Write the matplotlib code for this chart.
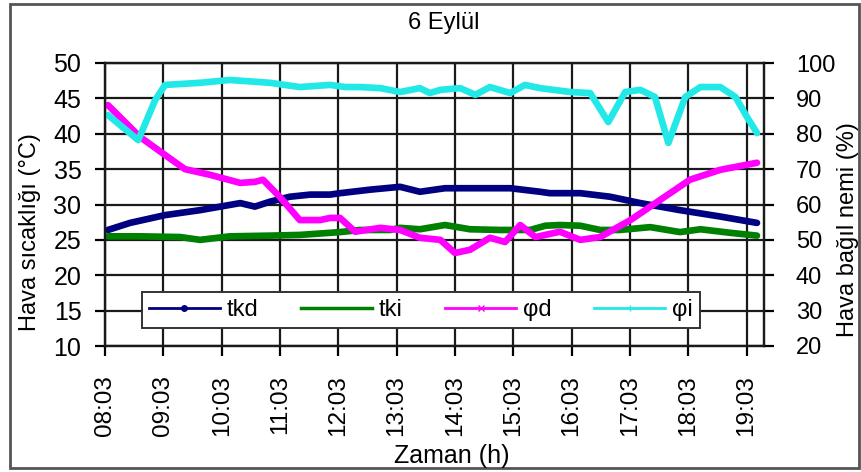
import matplotlib
matplotlib.use("Agg")
import matplotlib.pyplot as plt
from matplotlib.lines import Line2D
from matplotlib.patches import Rectangle

plt.rcParams['font.family'] = ['Liberation Sans', 'DejaVu Sans']

# --- data (time in decimal hours) ---
t_tkd = [8.10, 8.48, 9.08, 9.68, 10.37, 10.62, 10.88, 11.22, 11.57, 11.91, 12.08, 12.60,
         13.11, 13.45, 13.88, 14.48, 15.00, 15.51, 15.68, 16.20, 16.71, 17.23, 17.91, 18.60, 19.23]
tkd = [26.4, 27.4, 28.5, 29.2, 30.2, 29.7, 30.4, 31.1, 31.4, 31.4, 31.6, 32.1,
       32.5, 31.8, 32.3, 32.3, 32.3, 31.8, 31.6, 31.6, 31.1, 30.2, 29.2, 28.3, 27.4]

t_tki = [8.10, 8.65, 9.34, 9.68, 10.19, 10.88, 11.39, 11.74, 12.08, 12.42, 12.94, 13.11, 13.45,
         13.88, 14.31, 14.83, 15.34, 15.60, 15.85, 16.20, 16.54, 16.88, 17.40, 17.91, 18.26, 18.77, 19.23]
tki = [25.5, 25.5, 25.4, 25.0, 25.5, 25.6, 25.7, 25.9, 26.1, 26.4, 26.4, 26.7, 26.5,
       27.1, 26.5, 26.4, 26.4, 27.0, 27.1, 27.0, 26.4, 26.4, 26.8, 26.1, 26.5, 26.0, 25.6]

t_phid = [8.10, 8.65, 9.08, 9.42, 9.85, 10.37, 10.62, 10.76, 11.05, 11.39, 11.74, 11.91, 12.08,
          12.34, 12.77, 13.11, 13.45, 13.80, 14.05, 14.31, 14.65, 14.91, 15.17, 15.43, 15.85,
          16.20, 16.54, 17.06, 17.57, 18.08, 18.60, 19.23]
phid = [88.1, 79.1, 74.0, 70.0, 68.4, 66.1, 66.4, 67.0, 62.1, 55.6, 55.6, 56.2, 56.2,
        52.3, 53.4, 52.8, 50.6, 50.0, 46.3, 47.2, 50.6, 49.4, 54.2, 50.8, 52.3,
        50.0, 50.8, 55.6, 61.3, 67.0, 69.8, 71.8]

t_phii = [8.10, 8.62, 8.91, 9.08, 9.68, 10.19, 10.88, 11.39, 11.91, 12.17, 12.42, 12.77, 13.11,
          13.45, 13.62, 13.80, 14.14, 14.40, 14.65, 15.00, 15.25, 15.51, 16.03, 16.37, 16.68,
          16.97, 17.23, 17.48, 17.71, 18.00, 18.26, 18.60, 18.86, 19.06, 19.23]
phii = [85.3, 78.2, 89.5, 93.8, 94.4, 95.2, 94.4, 93.2, 93.8, 93.2, 93.2, 92.9, 91.8,
        92.9, 91.5, 92.4, 92.9, 91.0, 93.2, 91.5, 93.8, 92.9, 91.8, 91.5, 83.3,
        91.8, 92.4, 90.4, 77.4, 90.4, 93.2, 93.2, 90.4, 84.7, 80.2]

tick_hours = [8.05 + i for i in range(12)]
tick_labels = ["08:03", "09:03", "10:03", "11:03", "12:03", "13:03",
               "14:03", "15:03", "16:03", "17:03", "18:03", "19:03"]

c_tkd, c_tki, c_phid, c_phii = '#000080', '#008000', '#ff00ff', '#22e8e8'

fig = plt.figure(figsize=(8.62, 4.72), dpi=100)
ax = fig.add_axes([105 / 862, 1 - 346 / 472, 659 / 862, 283 / 472])
ax2 = ax.twinx()

ax.plot(t_tkd, tkd, color=c_tkd, lw=4.8, solid_capstyle='round')
ax.plot(t_tki, tki, color=c_tki, lw=4.8, solid_capstyle='round')
ax2.plot(t_phid, phid, color=c_phid, lw=4.8, solid_capstyle='round')
ax2.plot(t_phii, phii, color=c_phii, lw=4.8, solid_capstyle='round')

ax.set_xlim(8.05, 19.35)
ax.set_ylim(10, 50)
ax2.set_ylim(20, 100)
ax.set_yticks(range(10, 51, 5))
ax2.set_yticks(range(20, 101, 10))
ax.set_xticks(tick_hours)
ax.set_xticklabels(tick_labels, rotation=90)

ax.grid(True, color='#1a1a1a', lw=1.6)
ax.set_axisbelow(True)
for a in (ax, ax2):
    for s in a.spines.values():
        s.set_color('#1a1a1a')
        s.set_linewidth(1.6)

ax.tick_params(axis='y', direction='out', length=7, width=1.6, pad=10, labelsize=18)
ax.tick_params(axis='x', direction='out', length=7, width=1.6, pad=14, labelsize=17.5)
ax2.tick_params(axis='y', direction='out', length=7, width=1.6, pad=16, labelsize=17)

# labels and title
fig.text(444 / 862, 1 - 23 / 472, "6 Eylül", ha='center', va='center', fontsize=17)
fig.text(452 / 862, 1 - 456 / 472, "Zaman (h)", ha='center', va='center', fontsize=18)
fig.text(30 / 862, 1 - 232 / 472, "Hava sıcaklığı (°C)", rotation=90,
         ha='center', va='center', fontsize=17)
fig.text(848 / 862, 1 - 230 / 472, "Hava bağıl nemi (%)", rotation=90,
         ha='center', va='center', fontsize=17)

# legend with thin sample lines
handles = [
    Line2D([], [], color=c_tkd, lw=2, marker='o', markersize=4),
    Line2D([], [], color=c_tki, lw=2.5),
    Line2D([], [], color=c_phid, lw=2, marker='x', markersize=4),
    Line2D([], [], color=c_phii, lw=2, marker='+', markersize=4),
]
leg = ax2.legend(handles, ['tkd', 'tki', 'φd', 'φi'], ncol=4, mode='expand',
                 bbox_to_anchor=(0.056, 0.064, 0.847, 0.141), loc='lower left',
                 fancybox=False, framealpha=1, edgecolor='#333333', fontsize=17,
                 handlelength=3.0, handletextpad=0.3, borderaxespad=0, borderpad=0.3)
leg.get_frame().set_linewidth(1.4)

# outer chart border
fig.patches.append(Rectangle((10 / 862, 4 / 472), 849 / 862, 464 / 472,
                             transform=fig.transFigure, fill=False,
                             edgecolor='#555555', lw=2))

fig.savefig("out.png", dpi=100, facecolor='white')
